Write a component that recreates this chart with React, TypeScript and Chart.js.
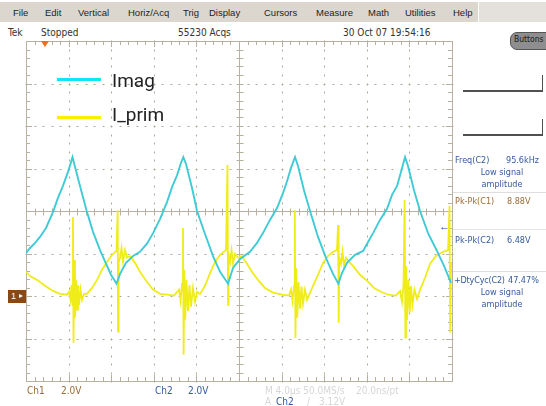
import React, { useEffect, useRef } from "react";
import { Chart, registerables } from "chart.js";

Chart.register(...registerables);

// ---------- data (time in µs, level in screen divisions) ----------
const timeTicks = [0, 4, 8, 12, 16, 20, 24, 28, 32, 36, 40];
const levelTicks = [-4, -3, -2, -1, 0, 1, 2, 3, 4];

const imagTrace: [number, number][] = [
  [0, -0.99], [0.38, -0.87], [0.85, -0.75], [1.31, -0.61], [1.88, -0.4], [2.54, -0.02],
  [3.0, 0.31], [3.47, 0.59], [3.94, 0.92], [4.23, 1.15], [4.37, 1.27], [4.51, 1.13],
  [5.07, 0.59], [5.7, 0.0], [6.29, -0.49], [6.95, -0.92], [7.51, -1.24], [7.98, -1.5],
  [8.5, -1.71], [8.83, -1.48], [9.39, -1.22], [10.05, -1.06], [10.7, -0.96], [11.36, -0.77],
  [11.93, -0.52], [12.58, -0.19], [13.24, 0.21], [13.71, 0.56], [14.18, 0.84], [14.55, 1.13],
  [14.77, 1.27], [15.03, 1.1], [15.59, 0.54], [16.06, 0.0], [16.71, -0.47], [17.56, -1.06],
  [18.22, -1.43], [18.97, -1.71], [19.44, -1.34], [20.1, -1.13], [21.03, -0.96], [21.69, -0.75],
  [22.25, -0.52], [22.91, -0.21], [23.57, 0.07], [24.13, 0.42], [24.51, 0.7], [24.88, 1.01],
  [25.26, 1.27], [25.54, 1.06], [26.1, 0.49], [26.67, 0.0], [27.42, -0.61], [28.24, -1.15],
  [28.83, -1.48], [29.33, -1.71], [29.67, -1.46], [30.14, -1.22], [30.89, -1.03], [31.65, -0.94],
  [32.12, -0.73], [32.59, -0.52], [33.24, -0.21], [33.9, 0.05], [34.37, 0.38], [34.84, 0.59],
  [35.21, 0.92], [35.59, 1.27], [35.87, 1.06], [36.43, 0.49], [37.0, 0.0], [37.75, -0.52],
  [38.59, -0.94], [39.25, -1.29], [39.91, -1.69],
];

const primTrace: [number, number][] = [
  [0, -1.43], [0.38, -1.53], [1.03, -1.62], [1.78, -1.76], [2.54, -1.88], [3.19, -1.95],
  [3.85, -1.97], [4.04, -1.9], [4.18, -2.09], [4.27, -1.74], [4.37, -2.21], [4.41, -0.14],
  [4.46, -3.1], [4.53, -1.15], [4.6, -2.51], [4.69, -1.62], [4.79, -2.32], [4.88, -1.74],
  [4.98, -2.21], [5.12, -1.85], [5.26, -2.09], [5.45, -1.95], [5.73, -1.95], [6.2, -1.81],
  [6.67, -1.62], [7.14, -1.38], [7.61, -1.2], [8.08, -1.03], [8.5, -0.94], [8.61, 0.02],
  [8.64, -2.84], [8.7, -1.2], [8.83, -1.1], [8.97, -0.87], [9.11, -1.2], [9.3, -0.92],
  [9.48, -1.1], [9.77, -1.06], [10.24, -1.22], [10.7, -1.43], [11.36, -1.67], [11.93, -1.85],
  [12.58, -1.95], [13.24, -1.97], [13.9, -1.99], [14.37, -1.85], [14.51, -2.11], [14.65, -1.71],
  [14.74, -0.4], [14.8, -3.38], [14.86, -1.38], [14.95, -2.56], [15.07, -1.62], [15.21, -2.35],
  [15.35, -1.74], [15.49, -2.25], [15.68, -1.81], [15.87, -2.14], [16.06, -1.9], [16.34, -1.95],
  [16.81, -1.76], [17.28, -1.46], [17.75, -1.2], [18.22, -1.03], [18.78, -0.92], [18.92, 1.08],
  [18.97, -2.21], [19.02, -1.03], [19.16, -1.2], [19.3, -0.92], [19.44, -1.24], [19.62, -1.01],
  [19.91, -1.1], [20.28, -1.06], [20.75, -1.24], [21.22, -1.43], [21.78, -1.62], [22.44, -1.81],
  [23.19, -1.92], [24.04, -1.97], [24.7, -1.99], [24.88, -1.85], [25.02, -2.11], [25.17, -1.76],
  [25.24, 0.02], [25.3, -2.98], [25.37, -1.34], [25.47, -2.51], [25.59, -1.67], [25.73, -2.3],
  [25.87, -1.78], [26.01, -2.18], [26.2, -1.85], [26.39, -2.09], [26.67, -1.92], [26.95, -1.76],
  [27.42, -1.5], [27.89, -1.22], [28.36, -1.06], [28.83, -0.96], [29.2, -0.92], [29.3, -0.33],
  [29.36, -2.63], [29.42, -1.1], [29.58, -1.24], [29.72, -0.96], [29.86, -1.29], [30.05, -1.1],
  [30.33, -1.2], [30.71, -1.29], [31.36, -1.5], [32.02, -1.64], [32.68, -1.81], [33.34, -1.9],
  [33.99, -1.97], [34.74, -1.99], [35.12, -1.88], [35.3, -2.14], [35.45, -1.74], [35.55, 0.26],
  [35.62, -2.98], [35.68, -1.29], [35.78, -2.56], [35.9, -1.62], [36.03, -2.39], [36.15, -1.76],
  [36.29, -2.21], [36.48, -1.85], [36.72, -2.07], [37.0, -1.85], [37.47, -1.57], [37.94, -1.24],
  [38.5, -1.06], [39.16, -0.96], [39.63, -0.92], [39.77, 0.12], [39.83, -2.86], [39.91, -1.2],
];

const seriesNames = ["Imag", "I_prim"];
const menuItems = ["File", "Edit", "Vertical", "Horiz/Acq", "Trig", "Display", "Cursors", "Measure", "Math", "Utilities", "Help"];
const menuX = [13, 45, 78, 128, 183, 209, 264, 316, 368, 405, 453];

// ---------- styles ----------
const CYAN = "#3fcbd6";
const YELLOW = "#f0ec1a";
const LEG_CYAN = "#10e6ee";
const LEG_YELLOW = "#f8f000";
const GRID_LINE = "#b8b1a1";
const GRID_DOT = "#aea796";
const SANS = "'Liberation Sans', Arial, sans-serif";
const NARROW = "'DejaVu Sans Condensed', 'Liberation Sans Narrow', 'Arial Narrow', 'DejaVu Sans', sans-serif";
const BLUE = "#3559a0";
const BROWN = "#9c6c34";
const FADED = "#d6d6d6";

function minorSteps(major: number[]): number[] {
  const out: number[] = [];
  for (let i = 0; i < major.length - 1; i++) {
    for (let k = 0; k < 5; k++) out.push(major[i] + ((major[i + 1] - major[i]) * k) / 5);
  }
  out.push(major[major.length - 1]);
  return out;
}

const scopeGrid = {
  id: "scopeGrid",
  beforeDatasetsDraw(chart: any) {
    const { ctx, chartArea, scales } = chart;
    const xs = scales.x;
    const ys = scales.y;
    const { left, right, top, bottom } = chartArea;
    const xMinor = minorSteps(timeTicks);
    const yMinor = minorSteps(levelTicks);
    const xMid = timeTicks[Math.floor(timeTicks.length / 2)];
    const yMid = levelTicks[Math.floor(levelTicks.length / 2)];
    const px = (v: number) => Math.round(xs.getPixelForValue(v)) + 0.5;
    const py = (v: number) => Math.round(ys.getPixelForValue(v)) + 0.5;
    ctx.save();
    // dotted graticule
    ctx.fillStyle = GRID_DOT;
    timeTicks.forEach((v, i) => {
      if (i === 0 || i === timeTicks.length - 1 || v === xMid) return;
      yMinor.forEach((w) => ctx.fillRect(px(v) - 0.5, py(w) - 1, 1, 2));
    });
    levelTicks.forEach((v, i) => {
      if (i === 0 || i === levelTicks.length - 1 || v === yMid) return;
      xMinor.forEach((w) => ctx.fillRect(px(w) - 1, py(v) - 0.5, 2, 1));
    });
    ctx.strokeStyle = GRID_LINE;
    ctx.lineWidth = 1;
    ctx.beginPath();
    const cx = px(xMid);
    const cy = py(yMid);
    ctx.moveTo(cx, top);
    ctx.lineTo(cx, bottom);
    ctx.moveTo(left, cy);
    ctx.lineTo(right, cy);
    xMinor.forEach((v, i) => {
      const x = px(v);
      const len = i % 5 === 0 ? 6 : 4;
      ctx.moveTo(x, cy - 3);
      ctx.lineTo(x, cy + 4);
      ctx.moveTo(x, top);
      ctx.lineTo(x, top + len);
      ctx.moveTo(x, bottom);
      ctx.lineTo(x, bottom - len);
    });
    yMinor.forEach((v, i) => {
      const y = py(v);
      const len = i % 5 === 0 ? 6 : 4;
      ctx.moveTo(cx - 3, y);
      ctx.lineTo(cx + 4, y);
      ctx.moveTo(left, y);
      ctx.lineTo(left + len, y);
      ctx.moveTo(right, y);
      ctx.lineTo(right - len, y);
    });
    ctx.stroke();
    ctx.strokeRect(Math.round(left) + 0.5, Math.round(top) + 0.5, Math.round(right - left), Math.round(bottom - top));
    ctx.restore();
  },
};

type LabelProps = {
  x: number;
  y: number;
  size?: number;
  color?: string;
  font?: string;
  center?: boolean;
  stretch?: string;
  spacing?: number;
  children: React.ReactNode;
};

function Label({ x, y, size = 10, color = "#333", font = SANS, center, stretch, spacing, children }: LabelProps) {
  return (
    <span
      style={{
        position: "absolute",
        left: x,
        top: y - size * 0.6,
        fontSize: size,
        lineHeight: `${size * 1.2}px`,
        color,
        fontFamily: font,
        fontStretch: stretch as any,
        letterSpacing: spacing,
        whiteSpace: "nowrap",
        transform: center ? "translateX(-50%)" : undefined,
      }}
    >
      {children}
    </span>
  );
}

const M = { size: 9, color: BLUE, font: NARROW, stretch: "condensed" };

export default function App() {
  const ref = useRef<HTMLCanvasElement>(null);

  useEffect(() => {
    if (!ref.current) return;
    const chart = new Chart(ref.current, {
      type: "line",
      data: {
        datasets: [
          {
            label: seriesNames[0],
            data: imagTrace.map(([t, v]) => ({ x: t, y: v })),
            borderColor: CYAN,
            borderWidth: 1.9,
            pointRadius: 0,
            tension: 0,
          },
          {
            label: seriesNames[1],
            data: primTrace.map(([t, v]) => ({ x: t, y: v })),
            borderColor: YELLOW,
            borderWidth: 1.8,
            pointRadius: 0,
            tension: 0,
          },
        ],
      },
      options: {
        animation: false,
        responsive: false,
        maintainAspectRatio: false,
        devicePixelRatio: 1,
        events: [],
        layout: { padding: { left: 26, top: 41, right: 94, bottom: 25 } },
        scales: {
          x: { type: "linear", min: timeTicks[0], max: timeTicks[timeTicks.length - 1], display: false },
          y: { type: "linear", min: levelTicks[0], max: levelTicks[levelTicks.length - 1], display: false },
        },
        plugins: { legend: { display: false }, tooltip: { enabled: false } },
      },
      plugins: [scopeGrid],
    });
    return () => chart.destroy();
  }, []);

  return (
    <div
      style={{
        position: "absolute",
        left: 0,
        top: 0,
        width: 546,
        height: 406,
        background: "#ffffff",
        overflow: "hidden",
        fontFamily: SANS,
      }}
    >
      {/* menu bar */}
      <div style={{ position: "absolute", left: 0, top: 2, width: 478, height: 20, background: "#dbd7cf" }} />
      <div style={{ position: "absolute", left: 479, top: 2, width: 67, height: 20, background: "#e4e1dc" }} />
      {menuItems.map((m, i) => (
        <Label key={m} x={menuX[i]} y={13} size={9.5} color="#1e1e1e">
          {m}
        </Label>
      ))}

      {/* status row */}
      <Label x={8} y={33} size={10} color="#333" font={NARROW} stretch="condensed">Tek</Label>
      <Label x={41} y={33} size={10} color="#333" font={NARROW} stretch="condensed">Stopped</Label>
      <Label x={178} y={33} size={10} color="#333" font={NARROW} stretch="condensed">55230 Acqs</Label>
      <Label x={343} y={33} size={10} color="#333" font={NARROW} stretch="condensed">30 Oct 07 19:54:16</Label>

      {/* Buttons pill */}
      <div
        style={{
          position: "absolute",
          left: 510,
          top: 32,
          width: 44,
          height: 16,
          background: "#8e8e8e",
          border: "1px solid #555",
          borderRadius: 7,
        }}
      />
      <Label x={514} y={39} size={8.5} color="#1a1a1a" font={NARROW} stretch="condensed">Buttons</Label>

      <canvas ref={ref} width={546} height={406} style={{ position: "absolute", left: 0, top: 0, width: 546, height: 406 }} />

      {/* trigger position marker */}
      <div
        style={{
          position: "absolute",
          left: 41,
          top: 41,
          width: 0,
          height: 0,
          borderLeft: "4px solid transparent",
          borderRight: "4px solid transparent",
          borderTop: "6px solid #e8701e",
        }}
      />

      {/* channel 1 ground marker */}
      <div style={{ position: "absolute", left: 8, top: 290, width: 18, height: 13, background: "#8a4814" }} />
      <Label x={11} y={296.5} size={9} color="#fff">1</Label>
      <div
        style={{
          position: "absolute",
          left: 19,
          top: 294,
          width: 0,
          height: 0,
          borderTop: "2.5px solid transparent",
          borderBottom: "2.5px solid transparent",
          borderLeft: "4px solid #fff",
        }}
      />

      {/* channel 2 trigger level arrow */}
      <Label x={439} y={227} size={11} color="#1f3f98">←</Label>

      {/* legend */}
      <div style={{ position: "absolute", left: 57, top: 77.5, width: 44, height: 3, background: LEG_CYAN }} />
      <div style={{ position: "absolute", left: 57, top: 115.5, width: 44, height: 3, background: LEG_YELLOW }} />
      <Label x={112} y={81} size={19} color="#222" font="Roboto, 'Liberation Sans', sans-serif">{seriesNames[0]}</Label>
      <Label x={112} y={115} size={19} color="#222" font="Roboto, 'Liberation Sans', sans-serif">{seriesNames[1]}</Label>

      {/* right-side reference boxes */}
      <div style={{ position: "absolute", left: 463, top: 90, width: 80, height: 1.5, background: "#505050" }} />
      <div style={{ position: "absolute", left: 541.5, top: 75, width: 1.5, height: 16, background: "#505050" }} />
      <div style={{ position: "absolute", left: 463, top: 134, width: 80, height: 1.5, background: "#505050" }} />
      <div style={{ position: "absolute", left: 541.5, top: 119, width: 1.5, height: 16, background: "#505050" }} />

      {/* measurement panel */}
      <Label x={455} y={160.5} {...M}>Freq(C2)</Label>
      <Label x={506} y={160.5} {...M}>95.6kHz</Label>
      <Label x={502} y={172.5} {...M} center>Low signal</Label>
      <Label x={502} y={184.5} {...M} center>amplitude</Label>
      <div style={{ position: "absolute", left: 453, top: 192, width: 93, height: 1, background: "#dedede" }} />
      <Label x={455} y={201.5} {...M} color={BROWN}>Pk-Pk(C1)</Label>
      <Label x={507} y={201.5} {...M} color={BROWN}>8.88V</Label>
      <div style={{ position: "absolute", left: 453, top: 229, width: 93, height: 1, background: "#e4e4e4" }} />
      <Label x={455} y={240} {...M}>Pk-Pk(C2)</Label>
      <Label x={507} y={240} {...M}>6.48V</Label>
      <div style={{ position: "absolute", left: 453, top: 271, width: 93, height: 1, background: "#dedede" }} />
      <Label x={454} y={280} {...M} spacing={-0.2}>+DtyCyc(C2)</Label>
      <Label x={508} y={280} {...M}>47.47%</Label>
      <Label x={502} y={292} {...M} center>Low signal</Label>
      <Label x={502} y={304} {...M} center>amplitude</Label>

      {/* bottom readouts */}
      <Label x={27} y={391} size={10} color={BROWN} font={NARROW} stretch="condensed">Ch1</Label>
      <Label x={61} y={391} size={10} color={BROWN} font={NARROW} stretch="condensed">2.0V</Label>
      <Label x={155} y={391} size={10} color={BLUE} font={NARROW} stretch="condensed">Ch2</Label>
      <Label x={188} y={391} size={10} color={BLUE} font={NARROW} stretch="condensed">2.0V</Label>
      <Label x={265} y={391} size={10} color={FADED} font={NARROW} stretch="condensed">M 4.0µs 50.0MS/s</Label>
      <Label x={356} y={391} size={10} color={FADED} font={NARROW} stretch="condensed">20.0ns/pt</Label>
      <Label x={265} y={402} size={10} color={FADED} font={NARROW} stretch="condensed">A</Label>
      <Label x={276} y={402} size={10} color={BLUE} font={NARROW} stretch="condensed">Ch2</Label>
      <Label x={307} y={402} size={10} color={FADED} font={NARROW} stretch="condensed">/</Label>
      <Label x={319} y={402} size={10} color={FADED} font={NARROW} stretch="condensed">3.12V</Label>
    </div>
  );
}
